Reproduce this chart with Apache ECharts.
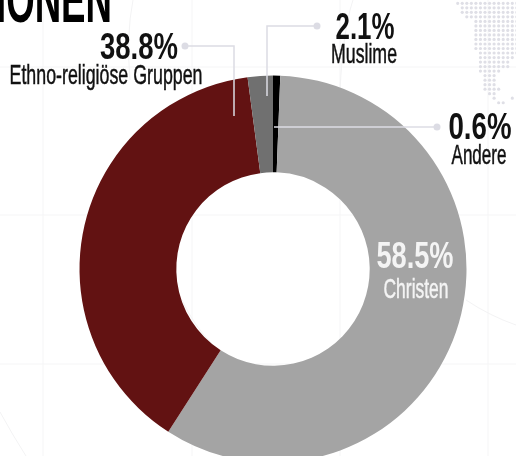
<!DOCTYPE html>
<html>
<head>
<meta charset="utf-8">
<style>html,body{margin:0;padding:0;background:#fff}#c{width:516px;height:456px}</style>
<script src="https://cdn.jsdelivr.net/npm/echarts@6/dist/echarts.min.js"></script>
</head>
<body>
<div id="c"></div>
<script>
// Religious groups, clockwise from twelve o'clock
const groups = ['Andere', 'Christen', 'Ethno-religiöse Gruppen', 'Muslime'];
const shares = [0.6, 58.5, 38.8, 2.1];
const colors = ['#000000', '#a4a4a4', '#621212', '#707070'];
const heading = 'IONEN';

// Label placement per group: centre x / centre y / fitted width for each line
const pctX = [480, 415, 139, 365];
const pctY = [129, 258, 48.5, 29];
const pctW = [63, 77, 78, 59];
const nameX = [479, 416, 106, 364];
const nameY = [156, 290, 76, 55];
const nameW = [55, 65, 193, 66];
const labelInk = ['#111', '#f4f4f4', '#111', '#111'];

// Leader lines: dot first, then the path into the ring
const leaders = [
  [[437, 127], [274, 127]],
  [[185, 46], [234, 46], [234, 116]],
  [[317, 26], [267, 26], [267, 96]]
];

// Dotted landmass: row -> [first column, last column] runs
const dotRows = [
  [[0, 13]], [[1, 13]], [[1, 13]], [[2, 13]], [[4, 13]], [[4, 13]], [[4, 13]], [[4, 13]],
  [[4, 13]], [[4, 13]], [[4, 13]], [[5, 13]], [[5, 12]], [[5, 11]], [[5, 11]], [[5, 9]],
  [[6, 8]], [[6, 8]], [[6, 8]], [[6, 9]], [[7, 8]], [[8, 8], [12, 12]], [[9, 10]]
];

// Faint backdrop rules and arcs (start, control, end)
const ruleX = [43, 192, 340, 488];
const ruleY = [67, 215, 364];
const arcs = [
  [133, 0, 126, 35, 130, 80],
  [353, 0, 343, 30, 340, 90],
  [0, 412, 12, 434, 26, 456],
  [466, 300, 490, 316, 516, 325],
  [182, 300, 194, 326, 213, 345]
];

const FAMILY = '"Liberation Sans", Arial, sans-serif';
const PCT_FONT = 'bold 37px ' + FAMILY;
const NAME_FONT = '28px ' + FAMILY;
const HEAD_FONT = 'bold 64px ' + FAMILY;

// Horizontal squeeze that brings a string to a given width
const ruler = document.createElement('canvas').getContext('2d');
function fit(text, font, width) {
  ruler.font = font;
  return width / ruler.measureText(text).width;
}

const graphics = [];

ruleX.forEach(x => graphics.push({ type: 'line', z: -5, silent: true,
  shape: { x1: x, y1: 0, x2: x, y2: 456 }, style: { stroke: '#f5f5f6', lineWidth: 1 } }));
ruleY.forEach(y => graphics.push({ type: 'line', z: -5, silent: true,
  shape: { x1: 0, y1: y, x2: 516, y2: y }, style: { stroke: '#f5f5f6', lineWidth: 1 } }));
arcs.forEach(([x1, y1, cx, cy, x2, y2]) => graphics.push({ type: 'bezierCurve', z: -5, silent: true,
  shape: { x1, y1, cpx1: cx, cpy1: cy, x2, y2 }, style: { fill: null, stroke: '#f3f3f4', lineWidth: 1 } }));

dotRows.forEach((runs, r) => runs.forEach(([a, b]) => {
  for (let c = a; c <= b; c++) {
    graphics.push({ type: 'circle', z: -4, silent: true,
      shape: { cx: 457.7 + c * 4.55, cy: 3.3 + r * 4.52, r: 1.6 }, style: { fill: '#dfdfe6' } });
  }
}));

graphics.push({ type: 'text', z: 20, silent: true, x: -4, y: 4, scaleX: fit(heading, HEAD_FONT, 116), style: {
  text: heading, font: HEAD_FONT, fill: '#000', align: 'left', verticalAlign: 'middle' } });

leaders.forEach(pts => {
  graphics.push({ type: 'polyline', z: 15, silent: true, shape: { points: pts },
    style: { fill: null, stroke: '#dcdce4', lineWidth: 1.5 } });
  graphics.push({ type: 'circle', z: 15, silent: true,
    shape: { cx: pts[0][0], cy: pts[0][1], r: 3.5 }, style: { fill: '#dcdce4' } });
});

groups.forEach((name, i) => {
  const pct = shares[i].toFixed(1) + '%';
  graphics.push({ type: 'text', z: 20, silent: true, x: pctX[i], y: pctY[i], scaleX: fit(pct, PCT_FONT, pctW[i]), style: {
    text: pct, font: PCT_FONT, fill: labelInk[i], align: 'center', verticalAlign: 'middle' } });
  graphics.push({ type: 'text', z: 20, silent: true, x: nameX[i], y: nameY[i], scaleX: fit(name, NAME_FONT, nameW[i]), style: {
    text: name, font: NAME_FONT, fill: labelInk[i], stroke: labelInk[i], lineWidth: 0.5,
    align: 'center', verticalAlign: 'middle' } });
});

const chart = echarts.init(document.getElementById('c'), null, { renderer: 'canvas' });
chart.setOption({
  animation: false,
  backgroundColor: '#ffffff',
  graphic: { elements: graphics },
  series: [{
    type: 'pie',
    center: [273, 269],
    radius: [96.7, 193.5],
    startAngle: 90,
    clockwise: true,
    silent: true,
    minAngle: 0,
    label: { show: false },
    labelLine: { show: false },
    data: groups.map((name, i) => ({ name, value: shares[i], itemStyle: { color: colors[i] } }))
  }]
});
</script>
</body>
</html>
